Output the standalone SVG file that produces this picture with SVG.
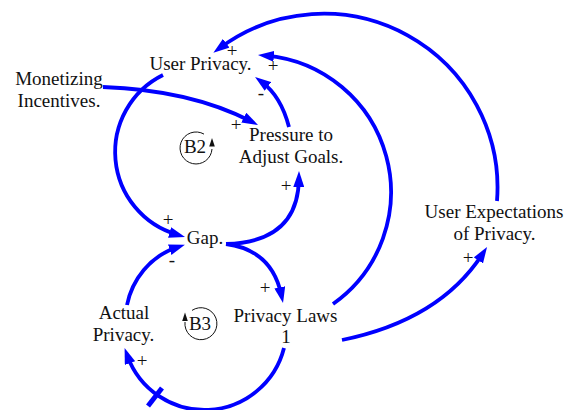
<svg xmlns="http://www.w3.org/2000/svg" width="566" height="410" viewBox="0 0 566 410">
  <style>
    .lbl { font-family: "Liberation Serif", "Times New Roman", serif; font-size: 19px; fill: #111; text-anchor: middle; }
    .link { fill: none; stroke: #0000ff; stroke-width: 3.8; stroke-linecap: butt; }
    .loop { fill: none; stroke: #111; stroke-width: 1; }
  </style>
  <defs>
    <marker id="arrow" viewBox="0 0 16 11" refX="8" refY="5.5" markerWidth="16" markerHeight="11" markerUnits="userSpaceOnUse" orient="auto">
      <path d="M0,0 L16,5.5 L0,11 z" fill="#0000ff"/>
    </marker>
  </defs>

  <rect width="566" height="410" fill="#ffffff"/>

  <!-- causal links -->
  <g id="connectors">
    <!-- User Expectations of Privacy -> User Privacy -->
    <path class="link" marker-end="url(#arrow)" d="M 497 201 A 174 174 0 0 0 219.8 48"/>
    <!-- Privacy Laws -> User Privacy -->
    <path class="link" marker-end="url(#arrow)" d="M 333 304 A 137 137 0 0 0 265.9 55.6"/>
    <!-- Pressure to Adjust Goals -> User Privacy -->
    <path class="link" marker-end="url(#arrow)" d="M 289 127 Q 281 96 261.5 81.7"/>
    <!-- Monetizing Incentives -> Pressure to Adjust Goals -->
    <path class="link" marker-end="url(#arrow)" d="M 103 87 Q 190 90 250.9 121.3"/>
    <!-- User Privacy -> Gap -->
    <path class="link" marker-end="url(#arrow)" d="M 163 75 A 86 86 0 0 0 177.3 234.7"/>
    <!-- Gap -> Pressure to Adjust Goals -->
    <path class="link" marker-end="url(#arrow)" d="M 226 244 Q 298 242 298.9 179"/>
    <!-- Gap -> Privacy Laws -->
    <path class="link" marker-end="url(#arrow)" d="M 226 244 Q 272 250 281.4 295.2"/>
    <!-- Privacy Laws -> Actual Privacy (delayed) -->
    <path class="link" marker-end="url(#arrow)" d="M 284 348 A 82 82 0 0 1 127.3 355.6"/>
    <line x1="148" y1="406" x2="162" y2="388" stroke="#0000ff" stroke-width="5"/>
    <!-- Actual Privacy -> Gap -->
    <path class="link" marker-end="url(#arrow)" d="M 127 305 C 132 280 150 256 177.3 247.2"/>
    <!-- Privacy Laws -> User Expectations of Privacy -->
    <path class="link" marker-end="url(#arrow)" d="M 342 340 Q 440 320 482.7 253.7"/>
  </g>

  <!-- link polarities -->
  <g id="polarities" class="lbl">
    <text x="232" y="57">+</text>
    <text x="273" y="72">+</text>
    <text x="261" y="99">-</text>
    <text x="236" y="131">+</text>
    <text x="286" y="192">+</text>
    <text x="168" y="226">+</text>
    <text x="172" y="266">-</text>
    <text x="265" y="294">+</text>
    <text x="142" y="367">+</text>
    <text x="468" y="264">+</text>
  </g>

  <!-- variables -->
  <g id="user-privacy">
    <text class="lbl" x="200.5" y="70">User Privacy.</text>
  </g>
  <g id="monetizing-incentives">
    <text class="lbl" x="59" y="85">Monetizing</text>
    <text class="lbl" x="59" y="107">Incentives.</text>
  </g>
  <g id="pressure-to-adjust-goals">
    <text class="lbl" x="291" y="141">Pressure to</text>
    <text class="lbl" x="291" y="163">Adjust Goals.</text>
  </g>
  <g id="gap">
    <text class="lbl" x="205" y="244">Gap.</text>
  </g>
  <g id="actual-privacy">
    <text class="lbl" x="124" y="319">Actual</text>
    <text class="lbl" x="123.5" y="341">Privacy.</text>
  </g>
  <g id="privacy-laws">
    <text class="lbl" x="285.5" y="321.5">Privacy Laws</text>
    <text class="lbl" x="286" y="343">1</text>
  </g>
  <g id="user-expectations">
    <text class="lbl" x="494" y="218">User Expectations</text>
    <text class="lbl" x="494.5" y="240">of Privacy.</text>
  </g>

  <!-- loop identifiers -->
  <g id="loop-b2">
    <path class="loop" d="M 204 134.1 A 16 16 0 1 0 212 149"/>
    <path d="M 212 138 L 214.8 146.5 L 209.2 146.5 z" fill="#111"/>
    <text class="lbl" x="195" y="153">B2</text>
  </g>
  <g id="loop-b3">
    <path class="loop" d="M 192 310.4 A 16 16 0 1 1 185 322"/>
    <path d="M 185 312.5 L 187.8 321 L 182.2 321 z" fill="#111"/>
    <text class="lbl" x="200" y="329.5">B3</text>
  </g>
</svg>
